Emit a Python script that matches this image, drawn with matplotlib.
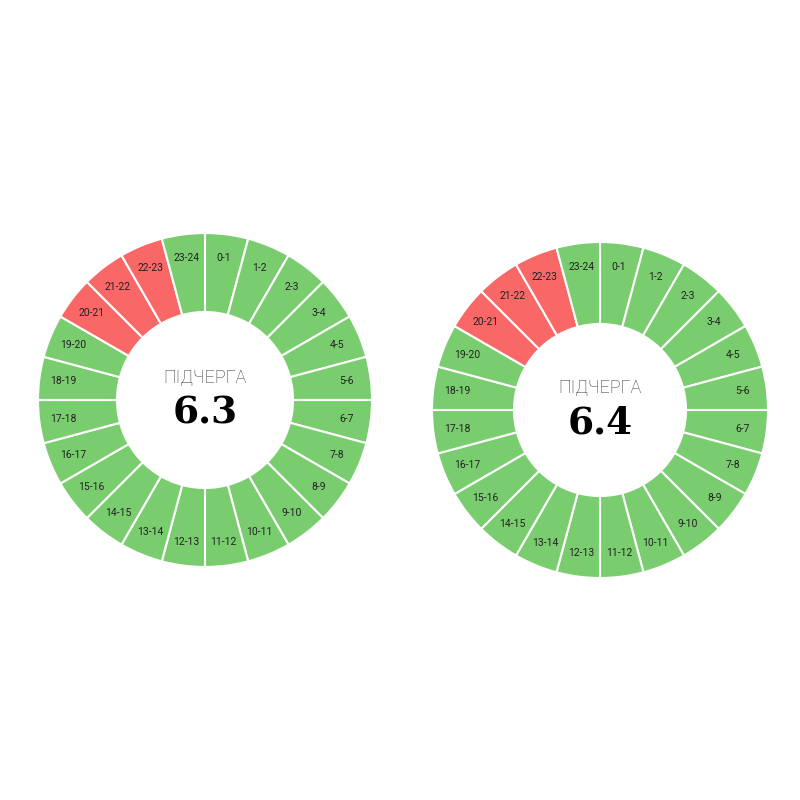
import numpy as np
import matplotlib.pyplot as plt
from matplotlib.patches import Wedge

hours = [f"{h}-{h + 1}" for h in range(24)]
outage_left = [20, 21, 22]   # hour slots shown in red
outage_right = [20, 21, 22]
titles = ["ПІДЧЕРГА", "ПІДЧЕРГА"]
values = ["6.3", "6.4"]

GREEN = "#79cd6f"
RED = "#fa6767"

fig = plt.figure(figsize=(8, 8), dpi=100)
ax = fig.add_axes([0, 0, 1, 1])
ax.set_xlim(0, 800)
ax.set_ylim(0, 800)
ax.axis("off")


def donut(cx, cy, R, r, red, title, value):
    for i, lab in enumerate(hours):
        a2 = 90 - i * 15
        a1 = a2 - 15
        col = RED if i in red else GREEN
        ax.add_patch(Wedge((cx, cy), R, a1, a2, width=R - r, facecolor=col,
                           edgecolor="white", lw=1.5))
        mid = np.deg2rad(a1 + 7.5)
        lr = R - 24
        ax.text(cx + lr * np.cos(mid), cy + lr * np.sin(mid), lab,
                ha="center", va="center", fontsize=7.5, color="#222222",
                family="Roboto")
    ax.text(cx, cy + 22, title, ha="center", va="center", fontsize=13,
            color="#333333", family="Roboto", fontweight="light")
    ax.text(cx, cy - 13, value, ha="center", va="center", fontsize=27,
            fontweight="bold", family="DejaVu Serif", color="black")


donut(205, 400, 167, 88, outage_left, titles[0], values[0])
donut(600, 390, 168, 86, outage_right, titles[1], values[1])

fig.savefig("out.png", dpi=100)
